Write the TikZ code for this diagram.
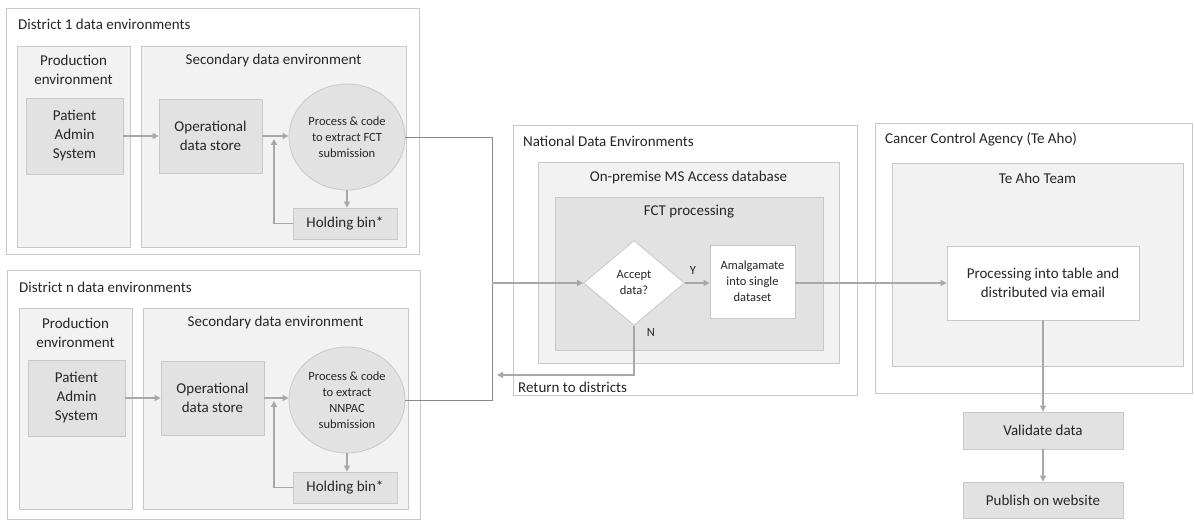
\documentclass[tikz,border=0pt]{standalone}
\usepackage{fontspec}
\setmainfont{Carlito}
\usepackage{xcolor}
\usetikzlibrary{shapes.geometric,arrows.meta}

\definecolor{boxline}{HTML}{C8C8C8}
\definecolor{envfill}{HTML}{F2F2F2}
\definecolor{itemfill}{HTML}{E2E2E2}
\definecolor{arrowgray}{HTML}{A8A8A8}
\definecolor{linkgray}{HTML}{8A8A8A}
\definecolor{textgray}{HTML}{262626}

\tikzset{
  every node/.style={font=\fontsize{15}{19}\selectfont,text=textgray,inner sep=0pt},
  small/.style={font=\fontsize{12.5}{16}\selectfont},
  outerbox/.style={rectangle,draw=boxline,fill=white,line width=0.8pt},
  envbox/.style={rectangle,draw=boxline,fill=envfill,line width=0.8pt},
  itembox/.style={rectangle,draw=boxline,fill=itemfill,line width=0.8pt,align=center},
  whitebox/.style={rectangle,draw=boxline,fill=white,line width=0.8pt,align=center},
  procball/.style={ellipse,draw=boxline,fill=itemfill,line width=0.8pt,align=center,small},
  decision/.style={diamond,draw=boxline,fill=white,line width=0.8pt,align=center,small},
  arr/.style={draw=arrowgray,line width=1.2pt,-{Triangle[length=6pt,width=6pt]}},
  link/.style={draw=linkgray,line width=0.7pt}
}

\begin{document}
\begin{tikzpicture}[x=1pt,y=-1pt]
\useasboundingbox (0,0) rectangle (1195,521);

% District 1
\node (D1)[outerbox,minimum width=413,minimum height=246] at (212.5,131) {};
\node (D1t)[anchor=west] at (18,24) {District 1 data environments};
\node (D1prod)[envbox,minimum width=113,minimum height=201] at (73.5,146.5) {};
\node (D1prodt)[align=center] at (73.5,70) {Production\\environment};
\node (D1pas)[itembox,minimum width=97,minimum height=76] at (74.5,136) {Patient\\Admin\\System};
\node (D1sec)[envbox,minimum width=265,minimum height=201] at (273.5,146.5) {};
\node (D1sect) at (273.5,61) {Secondary data environment};
\node (D1ods)[itembox,minimum width=103,minimum height=74] at (210.5,136) {Operational\\data store};
\node (D1proc)[procball,minimum width=116,minimum height=106] at (347,137) {Process \& code\\to extract FCT\\submission};
\node (D1bin)[itembox,minimum width=104,minimum height=31] at (345,223.5) {Holding bin*};
\coordinate (D1fb) at (274,139);

\draw[arr] (D1pas) -- (D1ods);
\draw[arr] (D1ods.east) -- (D1proc.west |- D1ods.east);
\draw[arr] (D1proc.south) -- (D1proc.south |- D1bin.north);
\draw[arr] (D1bin.west) -| (D1fb);

% District n
\node (Dn)[outerbox,minimum width=413,minimum height=249] at (213.5,394.5) {};
\node (Dnt)[anchor=west] at (19,287) {District n data environments};
\node (Dnprod)[envbox,minimum width=113,minimum height=201] at (75.5,408.5) {};
\node (Dnprodt)[align=center] at (75.5,333) {Production\\environment};
\node (Dnpas)[itembox,minimum width=97,minimum height=76] at (76.5,398) {Patient\\Admin\\System};
\node (Dnsec)[envbox,minimum width=265,minimum height=201] at (275.5,408.5) {};
\node (Dnsect) at (275.5,323) {Secondary data environment};
\node (Dnods)[itembox,minimum width=103,minimum height=74] at (212.5,398) {Operational\\data store};
\node (Dnproc)[procball,minimum width=116,minimum height=106] at (347,400) {Process \& code\\to extract\\NNPAC\\submission};
\node (Dnbin)[itembox,minimum width=104,minimum height=31] at (345,487.5) {Holding bin*};
\coordinate (Dnfb) at (274,401);

\draw[arr] (Dnpas) -- (Dnods);
\draw[arr] (Dnods.east) -- (Dnproc.west |- Dnods.east);
\draw[arr] (Dnproc.south) -- (Dnproc.south |- Dnbin.north);
\draw[arr] (Dnbin.west) -| (Dnfb);

% National
\node (Nat)[outerbox,minimum width=344,minimum height=270] at (685,260) {};
\node (Natt)[anchor=west] at (523,141) {National Data Environments};
\node (Acc)[envbox,minimum width=301,minimum height=201] at (688.5,262.5) {};
\node (Acct) at (688.5,178) {On-premise MS Access database};
\node (Fct)[itembox,minimum width=268,minimum height=153] at (689,273.5) {};
\node (Fctt) at (689,212) {FCT processing};
\node (Dec)[decision,minimum width=101,minimum height=85] at (634,283) {Accept\\data?};
\node (Amal)[whitebox,small,minimum width=85,minimum height=73] at (752.5,281.5) {Amalgamate\\into single\\dataset};
\node (Ylab)[small] at (693,270) {Y};
\node (Nlab)[small] at (651,332) {N};
\node (Ret)[anchor=west] at (518,387) {Return to districts};
\coordinate (join) at (492,283);
\coordinate (back) at (497,375);

% Te Aho
\node (Cca)[outerbox,minimum width=317,minimum height=270] at (1033.5,258) {};
\node (Ccat)[anchor=west] at (885,139) {Cancer Control Agency (Te Aho)};
\node (Team)[envbox,minimum width=291,minimum height=203] at (1037.5,264.5) {};
\node (Teamt) at (1037.5,178) {Te Aho Team};
\node (Tab)[whitebox,minimum width=192,minimum height=74] at (1043,283) {Processing into table and\\distributed via email};
\node (Val)[itembox,minimum width=160,minimum height=37] at (1043,430.5) {Validate data};
\node (Pub)[itembox,minimum width=160,minimum height=36] at (1043,500) {Publish on website};

\draw[link] (D1proc.east) -| (join);
\draw[link] (Dnproc.east) -| (join);
\draw[arr] (join) -- (Dec.west);
\draw[arr] (Dec.east) -- (Amal.west |- Dec.east);
\draw[arr] (Dec.south) |- (back);
\draw[arr] (Amal.east |- Tab.west) -- (Tab.west);
\draw[arr] (Tab) -- (Val);
\draw[arr] (Val) -- (Pub);
\end{tikzpicture}
\end{document}
